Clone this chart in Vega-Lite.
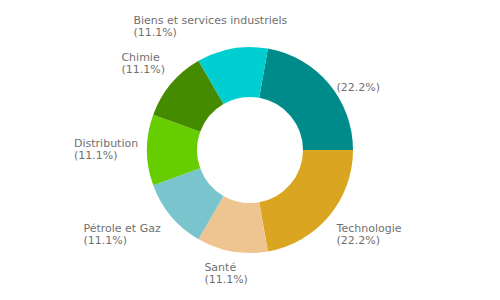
{
  "$schema": "https://vega.github.io/schema/vega-lite/v6.json",
  "width": 500,
  "height": 300,
  "padding": 0,
  "autosize": {"type": "fit", "contains": "padding"},
  "background": "white",
  "view": {"stroke": null},
  "data": {
    "values": [
      {"cat": "", "value": 2, "ord": 1, "label": "\n(22.2%)"},
      {"cat": "Technologie", "value": 2, "ord": 2, "label": "Technologie\n(22.2%)"},
      {"cat": "Santé", "value": 1, "ord": 3, "label": "Santé\n(11.1%)"},
      {"cat": "Pétrole et Gaz", "value": 1, "ord": 4, "label": "Pétrole et Gaz\n(11.1%)"},
      {"cat": "Distribution", "value": 1, "ord": 5, "label": "Distribution\n(11.1%)"},
      {"cat": "Chimie", "value": 1, "ord": 6, "label": "Chimie\n(11.1%)"},
      {"cat": "Biens et services industriels", "value": 1, "ord": 7, "label": "Biens et services industriels\n(11.1%)"}
    ]
  },
  "encoding": {
    "theta": {"field": "value", "type": "quantitative", "stack": true, "scale": {"range": [0.17453, 6.45772]}},
    "order": {"field": "ord", "type": "quantitative"}
  },
  "layer": [
    {
      "mark": {"type": "arc", "outerRadius": 103, "innerRadius": 53, "stroke": null},
      "encoding": {
        "color": {
          "field": "cat", "type": "nominal", "legend": null,
          "scale": {
            "domain": ["", "Technologie", "Santé", "Pétrole et Gaz", "Distribution", "Chimie", "Biens et services industriels"],
            "range": ["#008B8B", "#DAA520", "#EEC591", "#7AC5CD", "#66CD00", "#458B00", "#00CED1"]
          }
        }
      }
    },
    {
      "mark": {"type": "text", "radius": 113, "align": "left", "baseline": "top", "dx": 0, "dy": -7, "font": "DejaVu Sans", "fontSize": 11, "fill": "#707070", "lineBreak": "\n", "lineHeight": 12},
      "encoding": {"text": {"condition": {"test": "datum.ord === 1", "field": "label"}, "value": ""}}
    },
    {
      "mark": {"type": "text", "radius": 113, "align": "left", "baseline": "top", "dx": 0, "dy": 0, "font": "DejaVu Sans", "fontSize": 11, "fill": "#707070", "lineBreak": "\n", "lineHeight": 12},
      "encoding": {"text": {"condition": {"test": "datum.ord === 2", "field": "label"}, "value": ""}}
    },
    {
      "mark": {"type": "text", "radius": 113, "align": "left", "baseline": "top", "dx": -26, "dy": 1, "font": "DejaVu Sans", "fontSize": 11, "fill": "#707070", "lineBreak": "\n", "lineHeight": 12},
      "encoding": {"text": {"condition": {"test": "datum.ord === 3", "field": "label"}, "value": ""}}
    },
    {
      "mark": {"type": "text", "radius": 113, "align": "left", "baseline": "top", "dx": -80, "dy": 0, "font": "DejaVu Sans", "fontSize": 11, "fill": "#707070", "lineBreak": "\n", "lineHeight": 12},
      "encoding": {"text": {"condition": {"test": "datum.ord === 4", "field": "label"}, "value": ""}}
    },
    {
      "mark": {"type": "text", "radius": 113, "align": "left", "baseline": "top", "dx": -63, "dy": -12, "font": "DejaVu Sans", "fontSize": 11, "fill": "#707070", "lineBreak": "\n", "lineHeight": 12},
      "encoding": {"text": {"condition": {"test": "datum.ord === 5", "field": "label"}, "value": ""}}
    },
    {
      "mark": {"type": "text", "radius": 113, "align": "left", "baseline": "top", "dx": -42, "dy": -25, "font": "DejaVu Sans", "fontSize": 11, "fill": "#707070", "lineBreak": "\n", "lineHeight": 12},
      "encoding": {"text": {"condition": {"test": "datum.ord === 6", "field": "label"}, "value": ""}}
    },
    {
      "mark": {"type": "text", "radius": 113, "align": "left", "baseline": "top", "dx": -97, "dy": -24, "font": "DejaVu Sans", "fontSize": 11, "fill": "#707070", "lineBreak": "\n", "lineHeight": 12},
      "encoding": {"text": {"condition": {"test": "datum.ord === 7", "field": "label"}, "value": ""}}
    }
  ]
}
